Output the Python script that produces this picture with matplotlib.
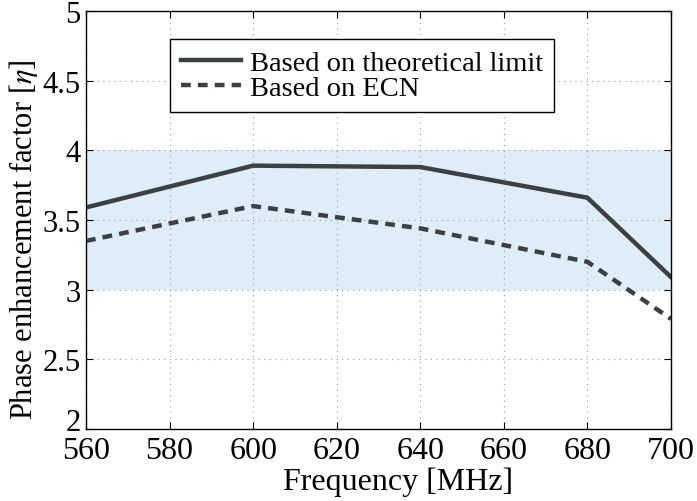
import matplotlib
matplotlib.use('Agg')
import matplotlib.pyplot as plt
import matplotlib.transforms as mtransforms

# phase enhancement factor vs frequency
freq = [560, 600, 640, 680, 700]
theoretical = [3.59, 3.89, 3.88, 3.66, 3.09]
ecn = [3.35, 3.60, 3.44, 3.20, 2.79]
band = [3, 4]

plt.rcParams['font.family'] = 'Liberation Serif'
plt.rcParams['mathtext.fontset'] = 'stix'

fig = plt.figure(figsize=(6.97, 5.02), dpi=100)
ax = fig.add_axes([86/697, 1 - 430/502, 585/697, 418/502])

ax.axhspan(band[0], band[1], color='#deedf8', zorder=0, lw=0)
ax.plot(freq, theoretical, color='#3b3f46', lw=3.2, label='Based on theoretical limit')
ax.plot(freq, ecn, color='#3b3f46', lw=3.2, ls=(0, (2.2, 1.6)), label='Based on ECN')

ax.set_xlim(560, 700)
ax.set_ylim(2, 5)
ax.set_xticks(range(560, 701, 20))
ax.set_yticks([2, 2.5, 3, 3.5, 4, 4.5, 5])
ax.set_yticklabels(['2', '2.5', '3', '3.5', '4', '4.5', '5'])
ax.grid(True, ls=(0, (1, 4)), color='#9a9a9a', lw=0.8)
ax.tick_params(direction='in', top=True, right=True, length=5)
ax.tick_params(axis='x', pad=5, labelsize=23)
ax.tick_params(axis='y', pad=4, labelsize=22)
for s in ax.spines.values():
    s.set_linewidth(1.0)

# bottom y label sits a little higher, as in the original export
lbl = ax.get_yticklabels()[0]
lbl.set_transform(lbl.get_transform() + mtransforms.ScaledTranslation(0, 10/100, fig.dpi_scale_trans))

ax.set_xlabel('Frequency [MHz]', fontsize=23)
ax.xaxis.set_label_coords(0.533, -0.09)
ax.set_ylabel(r'Phase enhancement factor [$\eta$]', fontsize=22)
ax.yaxis.set_label_coords(-0.078, 0.455)

leg = ax.legend(loc='upper left', bbox_to_anchor=(170/697, 1 - 40/502),
                bbox_transform=fig.transFigure, borderaxespad=0, fontsize=20.5,
                fancybox=False, edgecolor='black', framealpha=1,
                handlelength=2.1, borderpad=0.4, labelspacing=-0.05, handletextpad=0.3)
leg.get_frame().set_linewidth(1.0)

fig.savefig('out.png', dpi=100)
